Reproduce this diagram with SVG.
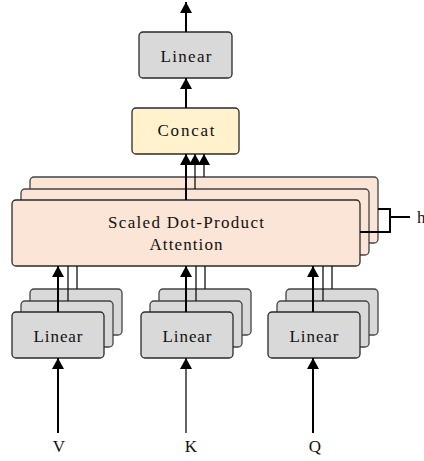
<svg xmlns="http://www.w3.org/2000/svg" width="424" height="461" viewBox="0 0 424 461">
<style>
  text { font-family: 'Liberation Serif', 'Times New Roman', serif; font-size: 17px; fill: #111; }
  .box { stroke: #2a2a2a; stroke-width: 1.3; }
  .lin { fill: #d9d9d9; }
  .cat { fill: #fff2cc; }
  .att { fill: #fbe5d6; }
  .shadow { stroke: #444; }
  .main { stroke: #000; stroke-width: 2; fill: none; }
  .thin { stroke: #111; stroke-width: 1.3; fill: none; }
</style>
<defs>
  <marker id="ah" markerUnits="userSpaceOnUse" markerWidth="11" markerHeight="12" viewBox="0 0 11 12" refX="11" refY="6" orient="auto">
    <path d="M0,0 L11,6 L0,12 z" fill="#000"/>
  </marker>
</defs>

<g id="linear-out">
  <rect class="box lin" x="139" y="32" width="93" height="46" rx="4"/>
  <text x="186" y="62" text-anchor="middle" textLength="51">Linear</text>
</g>

<g id="concat">
  <rect class="box cat" x="132" y="108" width="107" height="46" rx="4"/>
  <text x="186" y="136" text-anchor="middle" textLength="57">Concat</text>
</g>

<g id="attention">
  <rect class="box att shadow" x="30" y="177" width="348" height="66" rx="4"/>
  <rect class="box att shadow" x="21" y="189" width="348" height="66" rx="4"/>
  <rect class="box att" x="12" y="200" width="348" height="66" rx="4"/>
  <text x="186" y="228" text-anchor="middle" textLength="156">Scaled Dot-Product</text>
  <text x="186" y="250" text-anchor="middle" textLength="73">Attention</text>
</g>

<g id="linear-v">
  <rect class="box lin shadow" x="30" y="289" width="92" height="46" rx="4"/>
  <rect class="box lin shadow" x="21" y="301" width="92" height="46" rx="4"/>
  <rect class="box lin" x="12" y="312" width="92" height="46" rx="4"/>
  <text x="58" y="342" text-anchor="middle" textLength="49">Linear</text>
</g>

<g id="linear-k">
  <rect class="box lin shadow" x="159" y="289" width="92" height="46" rx="4"/>
  <rect class="box lin shadow" x="150" y="301" width="92" height="46" rx="4"/>
  <rect class="box lin" x="141" y="312" width="92" height="46" rx="4"/>
  <text x="187" y="342" text-anchor="middle" textLength="49">Linear</text>
</g>

<g id="linear-q">
  <rect class="box lin shadow" x="286" y="289" width="92" height="46" rx="4"/>
  <rect class="box lin shadow" x="277" y="301" width="92" height="46" rx="4"/>
  <rect class="box lin" x="268" y="312" width="92" height="46" rx="4"/>
  <text x="314" y="342" text-anchor="middle" textLength="49">Linear</text>
</g>

<g id="input-v"><text x="59" y="452" text-anchor="middle">V</text></g>
<g id="input-k"><text x="191" y="452" text-anchor="middle">K</text></g>
<g id="input-q"><text x="315" y="452" text-anchor="middle">Q</text></g>
<g id="heads-label"><text x="417" y="223">h</text></g>

<g id="connectors">
  <line class="main" x1="186" y1="32" x2="186" y2="2" marker-end="url(#ah)"/>
  <line class="main" x1="186" y1="108" x2="186" y2="78" marker-end="url(#ah)"/>
  <line class="thin" x1="204" y1="177" x2="204" y2="154" marker-end="url(#ah)"/>
  <line class="thin" x1="195" y1="189" x2="195" y2="154" marker-end="url(#ah)"/>
  <line class="main" x1="186" y1="200" x2="186" y2="154" marker-end="url(#ah)"/>

  <line class="thin" x1="77" y1="289" x2="77" y2="266"/>
  <line class="thin" x1="68" y1="301" x2="68" y2="266"/>
  <line class="main" x1="58" y1="312" x2="58" y2="266" marker-end="url(#ah)"/>

  <line class="thin" x1="205" y1="289" x2="205" y2="266"/>
  <line class="thin" x1="196" y1="301" x2="196" y2="266"/>
  <line class="main" x1="186" y1="312" x2="186" y2="266" marker-end="url(#ah)"/>

  <line class="thin" x1="332" y1="289" x2="332" y2="266"/>
  <line class="thin" x1="323" y1="301" x2="323" y2="266"/>
  <line class="main" x1="313" y1="312" x2="313" y2="266" marker-end="url(#ah)"/>

  <line class="main" x1="58" y1="433" x2="58" y2="358" marker-end="url(#ah)"/>
  <line class="thin" x1="186" y1="433" x2="186" y2="358" stroke="#333" marker-end="url(#ah)"/>
  <line class="main" x1="313" y1="433" x2="313" y2="358" marker-end="url(#ah)"/>

  <polyline class="main" points="378,209 390,209 390,232 360,232"/>
  <line class="main" x1="390" y1="217" x2="410" y2="217"/>
</g>
</svg>
